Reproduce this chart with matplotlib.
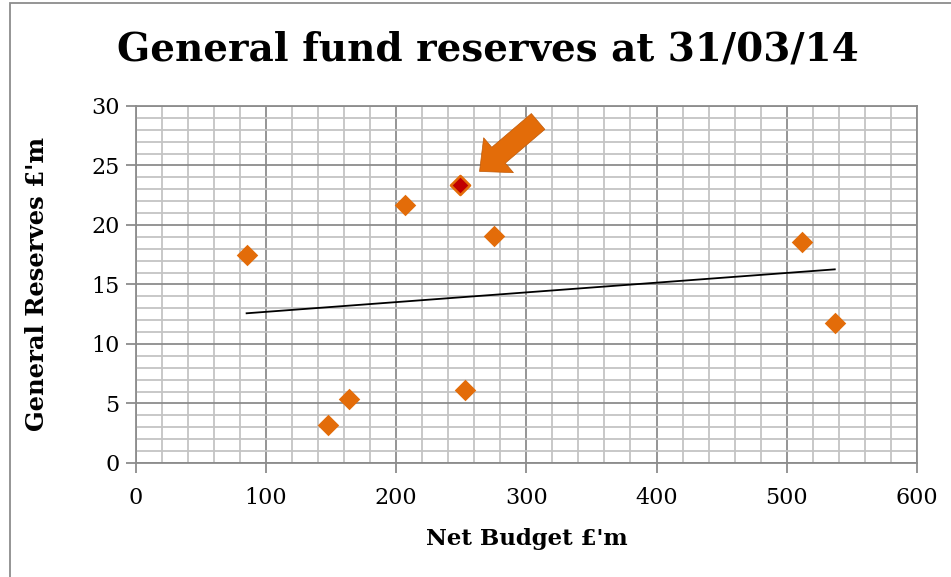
import numpy as np
import matplotlib.pyplot as plt
from matplotlib.patches import FancyArrowPatch, Rectangle
from matplotlib.ticker import MultipleLocator

# net budget vs general fund reserves (£m)
budget = [85, 147.5, 163.5, 206.5, 252.5, 275, 511.5, 537]
reserves = [17.5, 3.2, 5.4, 21.7, 6.1, 19.1, 18.6, 11.8]
# highlighted authority
hl_budget = [249]
hl_reserves = [23.4]

orange = '#E36C09'

fig = plt.figure(figsize=(9.51, 5.77), dpi=100)
ax = fig.add_axes([0.143, 0.1976, 0.821, 0.6187])

ax.set_xlim(0, 600)
ax.set_ylim(0, 30)
ax.xaxis.set_major_locator(MultipleLocator(100))
ax.xaxis.set_minor_locator(MultipleLocator(20))
ax.yaxis.set_major_locator(MultipleLocator(5))
ax.yaxis.set_minor_locator(MultipleLocator(1))
ax.grid(which='minor', color='#C4C4C4', lw=1.3, zorder=0)
ax.grid(which='major', color='#8C8C8C', lw=1.3, zorder=0)
ax.set_axisbelow(True)
for s in ax.spines.values():
    s.set_color('#8C8C8C')
    s.set_linewidth(1.3)
ax.tick_params(which='major', length=7, width=1.3, color='#8C8C8C',
               labelsize=16)
ax.tick_params(axis='x', pad=10)
ax.tick_params(axis='y', pad=5)
ax.tick_params(which='minor', length=0)
for lab in ax.get_xticklabels() + ax.get_yticklabels():
    lab.set_family('DejaVu Serif')

# trend line over all points
all_x = np.array(budget + hl_budget)
all_y = np.array(reserves + hl_reserves)
m, c = np.polyfit(all_x, all_y, 1)
tx = np.array([all_x.min(), all_x.max()])
ax.plot(tx, m * tx + c, color='black', lw=1.3, zorder=3)

ax.scatter(budget, reserves, marker='D', s=120, color=orange, zorder=4,
           linewidths=0)
ax.scatter(hl_budget, hl_reserves, marker='D', s=95, color='#C00000',
           edgecolors=orange, linewidths=1.8, zorder=5)

arrow = FancyArrowPatch((309, 28.7), (264, 24.5),
                        arrowstyle='simple,head_width=2.2,head_length=1.2,tail_width=1.0',
                        mutation_scale=15, color=orange, ec='#C05A08',
                        lw=0.5, shrinkA=0, shrinkB=0, zorder=6)
ax.add_patch(arrow)

ax.set_xlabel("Net Budget £'m", family='DejaVu Serif', weight='bold',
              fontsize=16.5, labelpad=14)
ax.set_ylabel("General Reserves £'m", family='DejaVu Serif', weight='bold',
              fontsize=17.5, labelpad=30)

fig.text(0.513, 0.915, 'General fund reserves at 31/03/14', ha='center',
         va='center', family='DejaVu Serif', weight='bold', fontsize=28)

# chart frame
fig.patches.append(Rectangle((0.0105, -0.05), 1.1, 1.045,
                             transform=fig.transFigure, fill=False,
                             ec='#8C8C8C', lw=1.3))

fig.savefig('out.png', dpi=100)
